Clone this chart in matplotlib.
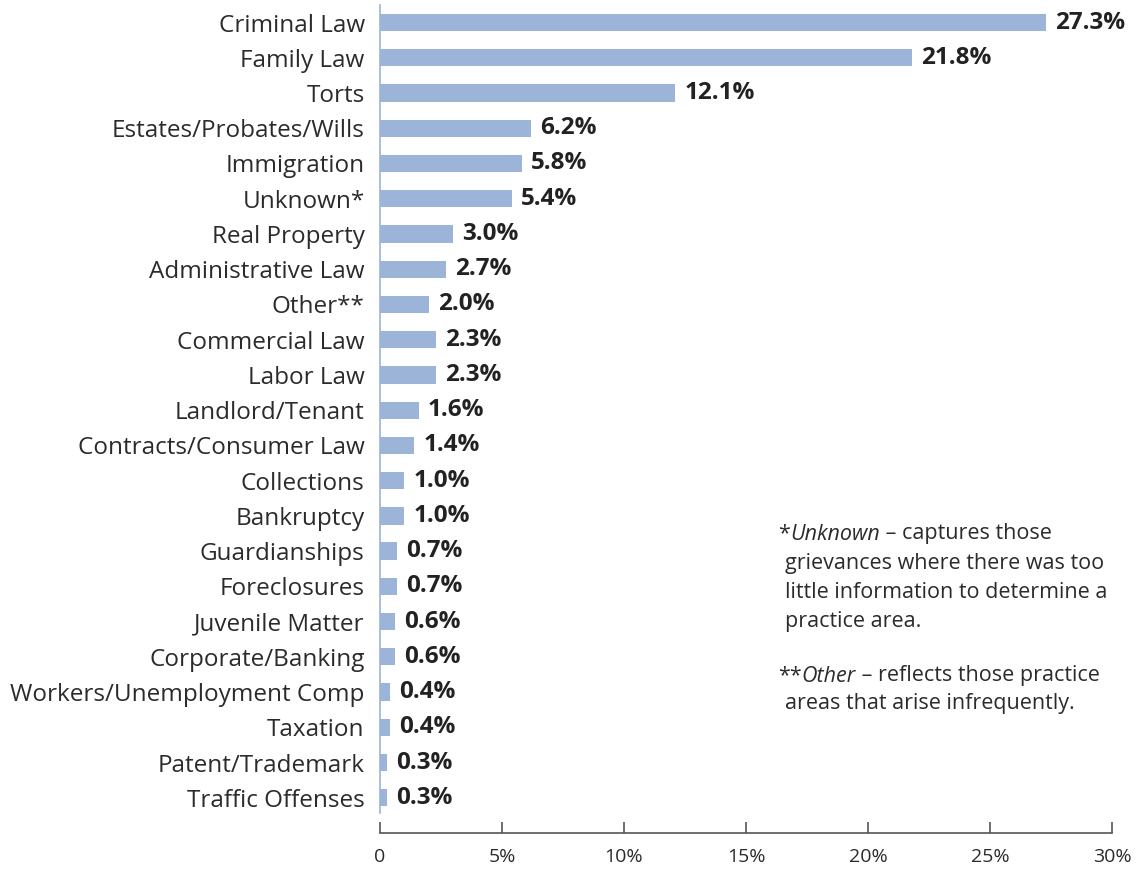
import matplotlib.pyplot as plt

plt.rcParams['font.family'] = ['Open Sans', 'DejaVu Sans']

categories = ['Criminal Law', 'Family Law', 'Torts', 'Estates/Probates/Wills',
              'Immigration', 'Unknown*', 'Real Property', 'Administrative Law',
              'Other**', 'Commercial Law', 'Labor Law', 'Landlord/Tenant',
              'Contracts/Consumer Law', 'Collections', 'Bankruptcy',
              'Guardianships', 'Foreclosures', 'Juvenile Matter',
              'Corporate/Banking', 'Workers/Unemployment Comp', 'Taxation',
              'Patent/Trademark', 'Traffic Offenses']
values = [27.3, 21.8, 12.1, 6.2, 5.8, 5.4, 3.0, 2.7, 2.0, 2.3, 2.3, 1.6, 1.4,
          1.0, 1.0, 0.7, 0.7, 0.6, 0.6, 0.4, 0.4, 0.3, 0.3]
xticks = [0, 5, 10, 15, 20, 25, 30]
xtick_labels = ['0', '5%', '10%', '15%', '20%', '25%', '30%']

TEXT = '#2b2b2b'
BAR = '#9bb4d8'

fig = plt.figure(figsize=(11.42, 8.69), dpi=100)
ax = fig.add_axes([380 / 1142, 1 - 833 / 869, 732 / 1142, 833 / 869])

pos = list(range(len(categories)))
ax.barh(pos, values, height=0.49, color=BAR)
for p, v in zip(pos, values):
    ax.annotate(f'{v:.1f}%', (v, p), xytext=(6.5, 0), textcoords='offset points',
                ha='left', va='center', fontsize=17.5, fontweight='bold', color='#222222')

ax.set_ylim(23.0, -0.64)
ax.set_xlim(0, 30)
ax.set_yticks(pos)
ax.set_yticklabels(categories, fontsize=17.5, color=TEXT)
ax.tick_params(axis='y', length=0, pad=11)
ax.set_xticks(xticks)
ax.set_xticklabels(xtick_labels, fontsize=14, color=TEXT)
ax.tick_params(axis='x', direction='in', length=8, width=1.2, color='#555555', pad=11)

ax.spines['top'].set_visible(False)
ax.spines['right'].set_visible(False)
ax.spines['bottom'].set_color('#555555')
ax.spines['bottom'].set_linewidth(1.2)
ax.spines['left'].set_color(BAR)
ax.spines['left'].set_linewidth(1.2)
ax.spines['left'].set_bounds(22.43, -0.5)

# footnotes
fs = 15.5
renderer = fig.canvas.get_renderer()


def run_line(x, y, parts):
    for txt, style in parts:
        t = fig.text(x / 1142, 1 - y / 869, txt, fontsize=fs, style=style,
                     color=TEXT, va='center', ha='left')
        bb = t.get_window_extent(renderer)
        x += bb.width


run_line(778, 534, [('*', 'normal'), ('Unknown', 'italic'), (' – captures those', 'normal')])
run_line(785, 563, [('grievances where there was too', 'normal')])
run_line(785, 592, [('little information to determine a', 'normal')])
run_line(785, 621, [('practice area.', 'normal')])
run_line(778, 676, [('**', 'normal'), ('Other', 'italic'), (' – reflects those practice', 'normal')])
run_line(785, 704, [('areas that arise infrequently.', 'normal')])

fig.savefig('out.png', dpi=100)
